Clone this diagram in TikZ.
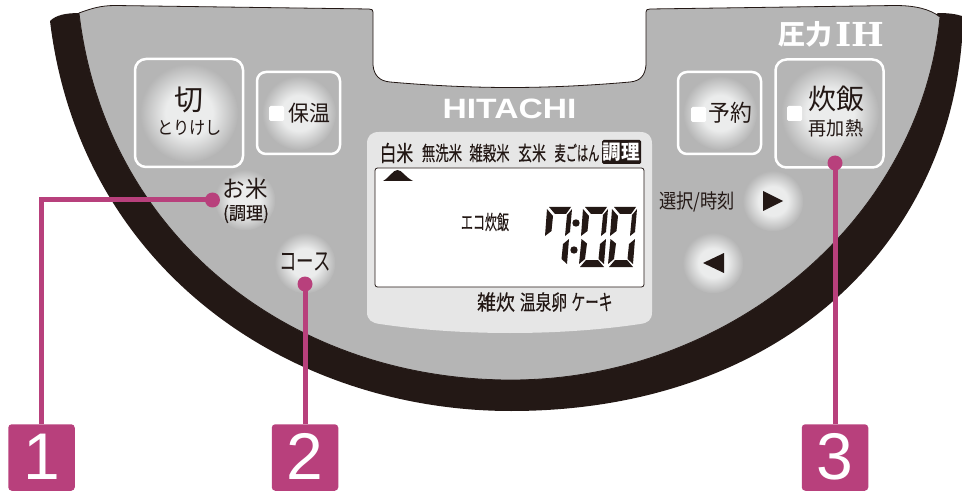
\documentclass[tikz,border=0pt]{standalone}
\usepackage{fontspec}
\setmainfont{Liberation Sans}
\newfontfamily\cjk{Noto Sans CJK JP}
\newfontfamily\cjkfat[FakeBold=0.35]{Noto Sans CJK JP}
\definecolor{ink}{HTML}{231815}
\definecolor{plate}{HTML}{B5B5B5}
\definecolor{pane}{HTML}{E6E6E6}
\definecolor{glow}{HTML}{EBECEC}
\definecolor{callout}{HTML}{B8407C}
\newcommand{\jp}[2]{\fontsize{#1}{#1}\selectfont\cjk\scalebox{#2}[1]}
\newcommand{\jpfat}[2]{\fontsize{#1}{#1}\selectfont\cjkfat\scalebox{#2}[1]}
\pgfdeclareradialshading{haloshade}{\pgfpointorigin}{color(0bp)=(glow); color(12bp)=(glow); color(25bp)=(plate); color(50bp)=(plate)}
\tikzset{
	txt/.style={inner sep=0pt, text=ink},
	keybox/.style={draw=white, line width=2.5pt, rounded corners=11pt, inner sep=0pt},
	halo/.style={circle, inner sep=0pt, minimum size=#1, shading=haloshade},
	lamp/.style={fill=white, rounded corners=1.5pt, inner sep=0pt, minimum size=15pt},
	pin/.style={circle, fill=callout, inner sep=0pt, minimum size=15pt},
	numbox/.style={fill=callout, text=white, rounded corners=3.5pt, inner sep=0pt, minimum size=66.5pt, font=\fontsize{66}{66}\selectfont},
	wire/.style={draw=callout, line width=5pt}
}

\begin{document}
\begin{tikzpicture}[x=1pt, y=-1pt]
	\useasboundingbox (0,0) rectangle (962,492);
	\fill[ink]
	(50,21) .. controls (56,15) and (66,13) .. (80,13)
	-- (110,50) -- (511,200) -- (900,50)
	-- (938,13) .. controls (948,13) and (956,14) .. (962,16)
	-- (962,40) .. controls (945,255) and (770,411) .. (511,411)
	.. controls (290,411) and (80,270) .. (50,21) -- cycle;
	\filldraw[fill=plate, draw=ink, line width=0.8pt]
	(79,13) .. controls (90,9) and (100,5.5) .. (115,5.5)
	-- (369,9) .. controls (372,9) and (373,10) .. (373,12)
	-- (373,65) .. controls (374,76) and (380,81) .. (390,82)
	.. controls (430,85.5) and (470,87.5) .. (510,87.5)
	.. controls (550,87.5) and (590,85.5) .. (630,82)
	.. controls (640,81) and (645,76) .. (646,65)
	-- (646,12) .. controls (646,10) and (647,9) .. (650,9)
	-- (895,5.5) .. controls (915,5.5) and (930,9) .. (940,17)
	.. controls (920,220) and (730,380) .. (511,380)
	.. controls (290,380) and (105,235) .. (79,13) -- cycle;
	\fill[pane]
	(379,132) -- (640,132) .. controls (648,132) and (652,136) .. (652,144)
	-- (652,312) .. controls (652,320) and (648,323) .. (640,324)
	.. controls (600,330) and (555,333) .. (510,333)
	.. controls (465,333) and (420,330) .. (380,324)
	.. controls (372,323) and (367,320) .. (367,312)
	-- (367,144) .. controls (367,136) and (371,132) .. (379,132) -- cycle;
	\filldraw[fill=white, draw=ink, line width=0.8pt, rounded corners=2.5pt] (375,168) rectangle (644,287);

	\node[keybox, minimum width=108pt, minimum height=108pt] (offbox) at (189,113) {};
	\node[keybox, minimum width=83pt, minimum height=82pt, rounded corners=9pt] (warmbox) at (298.5,113) {};
	\node[keybox, minimum width=83pt, minimum height=82pt, rounded corners=9pt] (timerbox) at (719.5,113) {};
	\node[keybox, minimum width=108pt, minimum height=108pt] (cookbox) at (829.5,113.5) {};
	\node[halo=98pt] (offhalo) at (189,113) {};
	\node[halo=74pt] (warmhalo) at (299,113) {};
	\node[halo=74pt] (timerhalo) at (720,113) {};
	\node[halo=98pt] (cookhalo) at (830,113) {};
	\node[halo=61pt] (ricehalo) at (245,200) {};
	\node[halo=61pt] (coursehalo) at (305,263) {};
	\node[halo=61pt] (nexthalo) at (773,201) {};
	\node[halo=61pt] (prevhalo) at (713,263) {};
	\node[lamp] (warmlamp) at (276.5,113.5) {};
	\node[lamp] (timerlamp) at (698.5,114.5) {};
	\node[lamp] (cooklamp) at (794.5,113.5) {};

	\fill[ink] (763,191) -- (783,201) -- (763,211) -- cycle;
	\fill[ink] (724,253) -- (703,263) -- (724,273) -- cycle;
	\fill[ink] (383,181) .. controls (390,177) and (393,170) .. (397.5,170) .. controls (402,170) and (405,177) .. (413,181) -- cycle;

	\node[txt] (off) at (189,100) {\jp{29}{1}{切}};
	\node[txt] (cancel) at (189.5,128) {\jp{18}{0.9}{とりけし}};
	\node[txt] (warm) at (309,113) {\jp{22}{0.95}{保温}};
	\node[txt] (timer) at (730,113) {\jp{23}{0.95}{予約}};
	\node[txt] (cook) at (836.5,99) {\jp{28}{1}{炊飯}};
	\node[txt] (reheat) at (836,128) {\jp{19}{0.95}{再加熱}};
	\node[txt] (rice) at (245.5,189) {\jp{23}{0.98}{お米}};
	\node[txt] (recipe) at (246,214) {\jpfat{18}{0.95}{(調理)}};
	\node[txt] (course) at (305,262) {\jp{25}{0.7}{コース}};
	\node[txt] (select) at (697,202) {\jp{20}{0.86}{選択/時刻}};
	\node[txt, text=white] (press) at (805.5,34) {\jp{27}{1}{\bfseries 圧力}};
	\node[txt, text=white, font=\fontsize{33}{33}\selectfont\fontspec{DejaVu Serif}\bfseries] (ih) at (859.5,34) {\scalebox{1.05}[1]{IH}};
	\node[txt, text=white, font=\fontsize{28}{28}\selectfont\bfseries] (brand) at (509.5,109) {\scalebox{1.2}[1]{HITACHI}};

	\node[txt] (white) at (396.5,153) {\jpfat{22}{0.76}{白米}};
	\node[txt] (rinsefree) at (442,153) {\jpfat{20}{0.67}{無洗米}};
	\node[txt] (mixed) at (489.5,153) {\jpfat{20}{0.67}{雑穀米}};
	\node[txt] (brown) at (532,153) {\jpfat{20}{0.7}{玄米}};
	\node[txt] (barley) at (577,153) {\jpfat{20}{0.56}{麦ごはん}};
	\node[fill=ink, text=white, rounded corners=1.5pt, inner sep=0pt, minimum width=39pt, minimum height=24pt] (cooking) at (621.5,152) {\jp{20}{0.93}{\bfseries 調理}};
	\node[txt] (eco) at (485,222) {\jpfat{20}{0.6}{エコ炊飯}};
	\node[txt] (porridge) at (496,302) {\jpfat{21}{0.9}{雑炊}};
	\node[txt] (egg) at (543.5,302) {\jpfat{21}{0.75}{温泉卵}};
	\node[txt] (cake) at (592,302) {\jpfat{22}{0.62}{ケーキ}};

	\fill[ink]
	(549,207) -- (571,207) -- (566,214) -- (555,214) -- cycle
	(547,209) -- (553,216) -- (551.5,231) -- (545,236) -- cycle
	(572,209) -- (570,232) -- (565,236) -- (567,215) -- cycle
	(585,207) -- (607,207) -- (602,214) -- (591,214) -- cycle
	(583,209) -- (589,216) -- (587.5,231) -- (581,236) -- cycle
	(608,209) -- (606,232) -- (601,236) -- (603,215) -- cycle
	(614,207) -- (636,207) -- (631,214) -- (620,214) -- cycle
	(612,209) -- (618,216) -- (616.5,231) -- (610,236) -- cycle
	(637,209) -- (635,232) -- (630,236) -- (632,215) -- cycle
	(569,239) -- (567,264) -- (561.5,259) -- (563,244) -- cycle
	(581.5,239) -- (587,243.5) -- (585,259) -- (579,264) -- cycle
	(606,239) -- (604,264) -- (598.5,259) -- (600,244) -- cycle
	(580,267) -- (586,260) -- (598,260) -- (604,267) -- cycle
	(610.5,239) -- (616,243.5) -- (614,259) -- (608,264) -- cycle
	(635,239) -- (633,264) -- (627.5,259) -- (629,244) -- cycle
	(609,267) -- (615,260) -- (627,260) -- (633,267) -- cycle
	(576,223) circle (3.7) (574,250) circle (3.7);

	\node[pin] (ricepin) at (212.5,200) {};
	\node[pin] (coursepin) at (305,284) {};
	\node[pin] (cookpin) at (835,163) {};
	\node[numbox] (numone) at (41.5,457.5) {\raisebox{2pt}{1}};
	\node[numbox] (numtwo) at (305,457.5) {\raisebox{2pt}{2}};
	\node[numbox] (numthree) at (835,457.5) {\raisebox{2pt}{3}};
	\draw[wire] (ricepin.center) -| (numone.north);
	\draw[wire] (coursepin.center) -- (numtwo.north);
	\draw[wire] (cookpin.center) -- (numthree.north);
\end{tikzpicture}
\end{document}
